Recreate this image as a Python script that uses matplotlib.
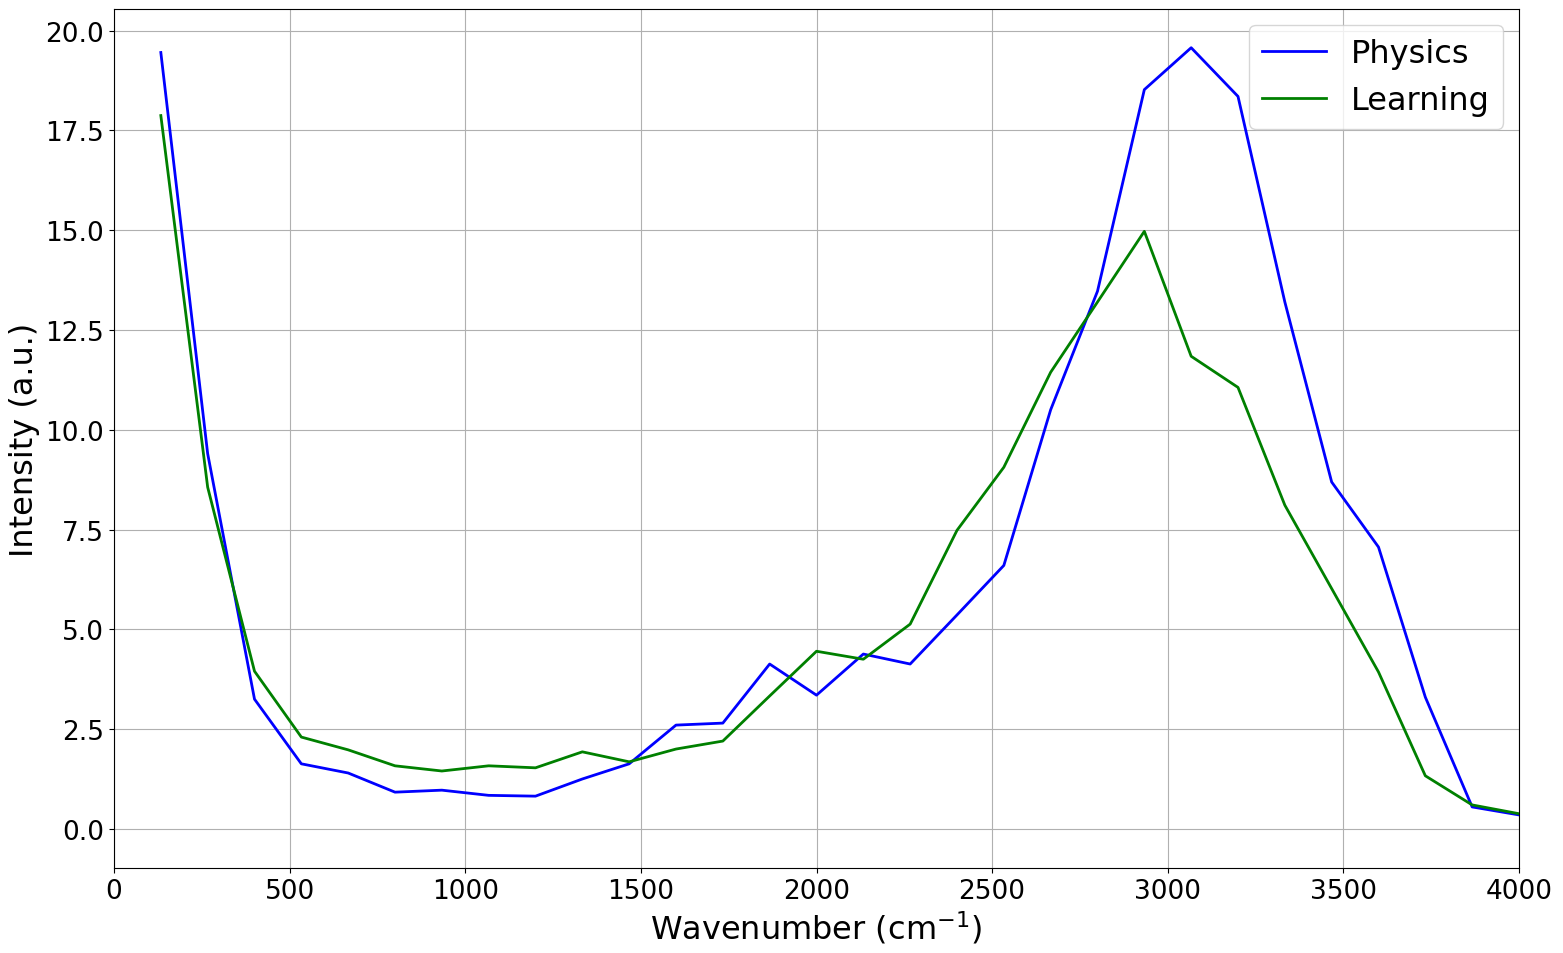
import numpy as np
import matplotlib
matplotlib.use("Agg")
import matplotlib.pyplot as plt

wavenumber = np.linspace(4000 / 30, 4000, 30)
physics = [19.45, 9.4, 3.25, 1.63, 1.4, 0.92, 0.97, 0.84, 0.82, 1.25,
           1.63, 2.6, 2.65, 4.13, 3.35, 4.38, 4.13, 5.36, 6.6, 10.5,
           13.47, 18.52, 19.57, 18.35, 13.2, 8.69, 7.06, 3.3, 0.55, 0.35]
learning = [17.87, 8.56, 3.95, 2.3, 1.98, 1.58, 1.45, 1.58, 1.53, 1.93,
            1.68, 2.0, 2.2, 3.33, 4.45, 4.25, 5.13, 7.48, 9.06, 11.44,
            13.2, 14.97, 11.84, 11.06, 8.11, 6.02, 3.93, 1.33, 0.6, 0.38]

fig, ax = plt.subplots(figsize=(15.63, 9.54), dpi=100)
ax.plot(wavenumber, physics, color='b', lw=2, label='Physics')
ax.plot(wavenumber, learning, color='g', lw=2, label='Learning')

ax.set_xlim(0, 4000)
ax.set_ylim(-0.98, 20.54)
ax.set_yticks(np.arange(0, 20.1, 2.5))
ax.set_xlabel(r'Wavenumber (cm$^{-1}$)', fontsize=23)
ax.set_ylabel('Intensity (a.u.)', fontsize=23)
ax.tick_params(labelsize=19)
ax.grid(True)
ax.legend(fontsize=23, loc='upper right')

fig.subplots_adjust(left=114 / 1563, right=1519 / 1563, top=1 - 10 / 954, bottom=1 - 869 / 954)
fig.savefig('out.png', dpi=100)
